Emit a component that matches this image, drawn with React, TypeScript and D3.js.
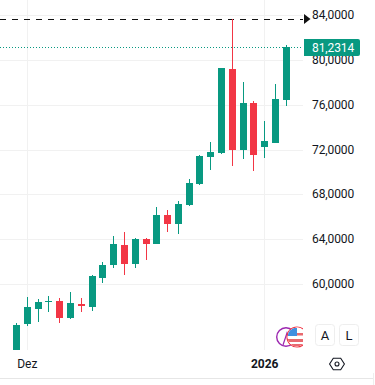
import React from "react";
import * as d3 from "d3";

const indices = d3.range(26);
const opens = [54.0,56.45,57.79,58.445,58.51,56.99,58.24,57.97,60.56,61.72,63.51,61.81,64.05,63.60,66.19,65.39,67.09,68.96,71.38,71.73,79.24,72.0,76.2,72.27,72.63,76.47];
const closes = [56.36,57.97,58.42,58.51,56.99,58.33,58.06,60.74,61.72,63.60,61.81,64.05,63.60,66.19,65.39,67.18,69.08,71.47,71.82,79.33,72.0,76.2,71.56,72.81,76.56,81.2314];
const highs = [56.51,58.84,58.66,58.93,58.75,59.31,58.78,60.83,61.99,64.32,64.67,64.14,64.14,66.91,66.64,67.44,69.41,71.56,72.72,79.36,83.68,78.08,76.38,74.59,77.9,81.39];
const lows = [53.8,56.21,56.63,57.52,56.54,56.9,57.52,57.61,60.12,61.46,60.83,61.46,62.17,63.6,64.67,64.5,67.04,68.87,70.21,71.7,70.57,71.2,70.13,71.29,72.6,75.93];
const priceTicks = [60,64,68,72,76,80,84];
const lastPrice = 81.2314;
const highLine = 83.68;
const timeLabels = [{ i: 1, text: "Dez", bold: false }, { i: 23, text: "2026", bold: true }];

const GREEN = "#089981";
const RED = "#F23645";
const GRID = "#f1f1f1";
const FONT = "Roboto, 'Liberation Sans', sans-serif";
const fmt = (v: number) => v.toFixed(4).replace(".", ",");

export default function App() {
  const y = d3.scaleLinear().domain([60, 84]).range([284.3, 15.8]);
  const x = d3.scaleLinear().domain([0, 25]).range([16.5, 286.3]);
  const snap = (v: number) => Math.floor(v) + 0.5;
  const hex = d3.range(6).map((k) => {
    const a = (Math.PI / 3) * k;
    return [337 + 7.4 * Math.cos(a), 364 + 6.6 * Math.sin(a)] as [number, number];
  });
  return (
    <svg width={375} height={385} style={{ position: "absolute", left: 0, top: 0, background: "#fff" }}>
      <defs>
        <clipPath id="plot"><rect x={0} y={0} width={303} height={350} /></clipPath>
        <clipPath id="flag"><circle cx={297} cy={337} r={9.5} /></clipPath>
      </defs>
      <g clipPath="url(#plot)">
        {priceTicks.map((t) => (
          <line key={t} x1={0} x2={303} y1={snap(y(t))} y2={snap(y(t))} stroke={GRID} />
        ))}
        {timeLabels.map((t) => (
          <line key={t.text} x1={snap(x(t.i))} x2={snap(x(t.i))} y1={0} y2={350} stroke={GRID} />
        ))}
        <line x1={0} x2={303} y1={47.5} y2={47.5} stroke={GREEN} strokeDasharray="1 2" shapeRendering="crispEdges" />
        <line x1={0} x2={303} y1={snap(y(highLine))} y2={snap(y(highLine))} stroke="#111" strokeDasharray="6 6" />
        {indices.map((i) => {
          const c = closes[i] >= opens[i] ? GREEN : RED;
          const top = y(Math.max(opens[i], closes[i]));
          const bot = y(Math.min(opens[i], closes[i]));
          const cx = Math.floor(x(i));
          return (
            <g key={i} fill={c} shapeRendering="crispEdges">
              <rect x={cx} width={1} y={Math.round(y(highs[i]))} height={Math.round(y(lows[i]) - y(highs[i]))} />
              <rect x={cx - 3} width={7} y={Math.round(top)} height={Math.max(1, Math.round(bot - top))} />
            </g>
          );
        })}
        <circle cx={286} cy={337} r={9.3} fill="#fff" stroke="#9c27b0" strokeWidth={1.4} />
        <path d="M283 345 L287 333 L291 345" fill="none" stroke="#9c27b0" strokeWidth={1.2} />
        <circle cx={297} cy={337} r={10} fill="#fff" stroke={RED} strokeWidth={1.2} />
        <g clipPath="url(#flag)">
          <rect x={287} y={327} width={20} height={20} fill="#fff" />
          <rect x={287} y={339} width={20} height={3} fill="#e8696f" />
          <rect x={287} y={344} width={20} height={4} fill="#e8696f" />
          <rect x={297} y={333} width={10} height={2.5} fill="#e8696f" />
          <rect x={287} y={328} width={10} height={8} fill="#3f8fe0" />
        </g>
      </g>
      <path d={`M304 14 L310.5 19 L304 24 Z`} fill="#111" />
      {priceTicks.map((t) => (
        <text key={t} x={312} y={y(t) + 3.6} fontFamily={FONT} fontSize={12} letterSpacing={-0.1} fill="#131722">{fmt(t)}</text>
      ))}
      <path d="M304 39 H358 a2 2 0 0 1 2 2 V54 a2 2 0 0 1 -2 2 H304 Z" fill={GREEN} />
      <text x={312} y={51.5} fontFamily={FONT} fontSize={12} letterSpacing={-0.1} fill="#fff">{fmt(lastPrice)}</text>
      {timeLabels.map((t) => (
        <text key={t.text} x={x(t.i)} y={368} textAnchor="middle" fontFamily={FONT} fontSize={12} fontWeight={t.bold ? 700 : 400} fill="#131722">{t.text}</text>
      ))}
      {[{ l: "A", x0: 315.5 }, { l: "L", x0: 339.5 }].map((b) => (
        <g key={b.l}>
          <rect x={b.x0} y={324.5} width={19} height={21} rx={3} fill="#fff" stroke="#eeeeee" />
          <text x={b.x0 + 9.5} y={340} textAnchor="middle" fontFamily={FONT} fontSize={13} fill="#131722">{b.l}</text>
        </g>
      ))}
      <path d={`M${hex.join("L")}Z`} fill="none" stroke="#131722" strokeWidth={1.1} />
      <circle cx={337} cy={364} r={2} fill="none" stroke="#131722" strokeWidth={1.1} />
      <line x1={0} x2={373} y1={378.5} y2={378.5} stroke="#e6e6e6" />
      <line x1={373.5} x2={373.5} y1={373} y2={385} stroke="#eeeeee" />
    </svg>
  );
}
